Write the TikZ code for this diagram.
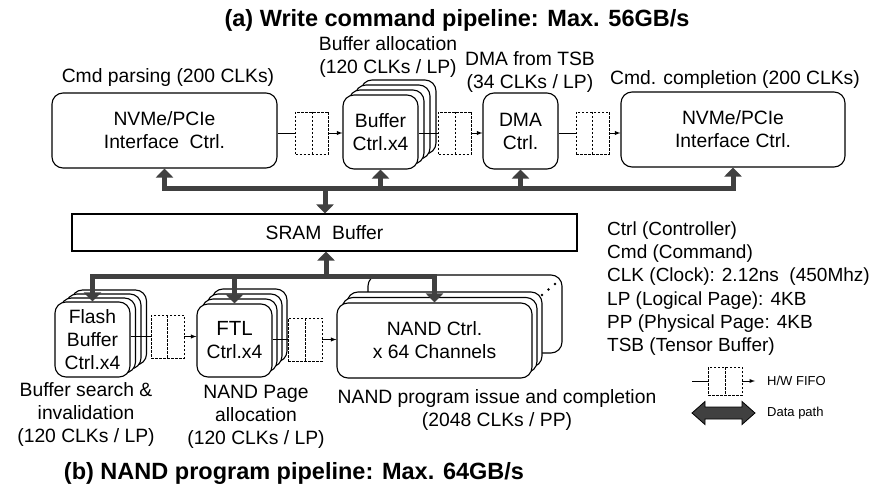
\documentclass[tikz,border=0pt]{standalone}
\usepackage{fontspec}
\setmainfont{Liberation Sans}
\usetikzlibrary{arrows.meta}
\definecolor{busgray}{RGB}{64,64,64}

\begin{document}
\begin{tikzpicture}
      [x = 1pt, y = -1pt,
      txt/.style = {
         font = \fontsize{19.3}{23}\selectfont,
         align = center,
         inner sep = 0pt
      },
      ctrl/.style = {
         draw,
         fill = white,
         rounded corners = 11pt,
         line width = 1.1pt,
         txt
      },
      fifo/.style = {
         draw,
         dash pattern = on 2.5pt off 1.5pt,
         line width = 0.8pt,
         minimum width = 33pt,
         minimum height = 42pt,
         inner sep = 0pt,
         path picture = {\draw[dash pattern = on 2.5pt off 1.5pt, line width = 0.8pt]
            (path picture bounding box.north) -- (path picture bounding box.south);}
      },
      link/.style = {line width = 0.9pt, -latex},
      bus/.style = {draw = busgray, line width = 5pt, line cap = rect},
      busarrow/.style = {bus, -{Triangle[width = 17pt, length = 9pt]}},
      pipetitle/.style = {font = \fontsize{23.5}{27}\selectfont\bfseries, inner sep = 0pt}]

      \useasboundingbox (0, 0) rectangle (892, 492);

      % (a) write command pipeline
      \node[pipetitle] (titleA) at (457, 20) {(a) Write command pipeline: Max. 56GB/s};

      \node[ctrl, minimum width = 225pt, minimum height = 75pt] (nvmeA) at (164.5, 130.5) {NVMe/PCIe\\Interface\ \ Ctrl.};
      \node[fifo] (fifoA) at (312, 133) {};
      \foreach \k in {3, 2, 1}
         \node[ctrl, minimum width = 75pt, minimum height = 74pt] at ({380.5 + 6*\k}, {132 - 5*\k}) {};
      \node[ctrl, minimum width = 75pt, minimum height = 74pt] (bufA) at (380.5, 132) {Buffer\\Ctrl.x4};
      \node[fifo] (fifoB) at (455, 133) {};
      \node[ctrl, minimum width = 75pt, minimum height = 76pt] (dmaA) at (520.5, 131) {DMA\\Ctrl.};
      \node[fifo] (fifoC) at (592.5, 133) {};
      \node[ctrl, minimum width = 224pt, minimum height = 75pt] (nvmeB) at (733, 129.5) {NVMe/PCIe\\Interface Ctrl.};

      \draw[line width = 0.9pt] (nvmeA.east |- fifoA.west) -- (fifoA.west);
      \draw[link] (fifoA.east) -- (bufA.west |- fifoA.east);
      \draw[line width = 0.9pt] (bufA.east |- fifoB.west) -- (fifoB.west);
      \draw[link] (fifoB.east) -- (dmaA.west |- fifoB.east);
      \draw[line width = 0.9pt] (dmaA.east |- fifoC.west) -- (fifoC.west);
      \draw[link] (fifoC.east) -- (nvmeB.west |- fifoC.east);

      \node[txt] (parseLbl) at (168, 78) {Cmd parsing (200 CLKs)};
      \node[txt] (allocLbl) at (388, 57.5) {Buffer allocation\\(120 CLKs / LP)};
      \node[txt] (dmaLbl) at (530, 72) {DMA from TSB\\(34 CLKs / LP)};
      \node[txt] (complLbl) at (735, 80) {Cmd. completion (200 CLKs)};

      \node[draw, line width = 1.1pt, minimum width = 505pt, minimum height = 37pt, txt] (sram) at (324.5, 232.5) {SRAM\ \ Buffer};

      % top data path
      \coordinate (busA) at (325, 189);
      \draw[bus] (nvmeA.south |- busA) -- (nvmeB.south |- busA);
      \draw[busarrow] (nvmeA.south |- busA) -- (nvmeA.south);
      \draw[busarrow] (bufA.south |- busA) -- (bufA.south);
      \draw[busarrow] (dmaA.south |- busA) -- (dmaA.south);
      \draw[busarrow] (nvmeB.south |- busA) -- (nvmeB.south);
      \draw[busarrow] (busA) -- (busA |- sram.north);

      % (b) NAND program pipeline
      \foreach \k in {3, 2, 1}
         \node[ctrl, minimum width = 75pt, minimum height = 75pt] at ({92.5 + 5.5*\k}, {339.5 - 4*\k}) {};
      \node[ctrl, minimum width = 75pt, minimum height = 75pt] (flash) at (92.5, 339.5) {Flash\\Buffer\\Ctrl.x4};
      \node[fifo, minimum height = 43pt] (fifoD) at (167.5, 336.5) {};
      \foreach \k in {3, 2, 1}
         \node[ctrl, minimum width = 75pt, minimum height = 73pt] at ({234.5 + 5*\k}, {340.5 - 5*\k}) {};
      \node[ctrl, minimum width = 75pt, minimum height = 73pt] (ftl) at (234.5, 340.5) {{\fontsize{20.5}{23}\selectfont FTL}\\Ctrl.x4};
      \node[fifo, minimum width = 34pt, minimum height = 43pt] (fifoE) at (305, 339.5) {};
      \node[ctrl, minimum width = 194pt, minimum height = 78pt] (nandBack) at (465, 314) {};
      \fill (542, 295) circle (1.3) (548.5, 289.5) circle (1.3) (555, 284) circle (1.3);
      \foreach \k in {2, 1}
         \node[ctrl, minimum width = 195pt, minimum height = 75pt] at ({434.5 + 5*\k}, {340.5 - 5.5*\k}) {};
      \node[ctrl, minimum width = 195pt, minimum height = 75pt] (nand) at (434.5, 340.5) {NAND Ctrl.\\x 64 Channels};

      \draw[line width = 0.9pt] (flash.east |- fifoD.west) -- (fifoD.west);
      \draw[link] (fifoD.east) -- (ftl.west |- fifoD.east);
      \draw[line width = 0.9pt] (ftl.east |- fifoE.west) -- (fifoE.west);
      \draw[link] (fifoE.east) -- (nand.west |- fifoE.east);

      % bottom data path
      \coordinate (busB) at (326, 276);
      \draw[bus] (flash.north |- busB) -- (nand.north |- busB);
      \draw[busarrow] (busB) -- (busB |- sram.south);
      \draw[busarrow] (flash.north |- busB) -- (flash.north);
      \draw[busarrow] (ftl.north |- busB) -- (ftl.north);
      \draw[busarrow] (nand.north |- busB) -- (nand.north);

      \node[txt] (searchLbl) at (86, 415) {Buffer search \&\\invalidation\\(120 CLKs / LP)};
      \node[txt] (pageLbl) at (256, 417) {NAND Page\\allocation\\(120 CLKs / LP)};
      \node[txt] (progLbl) at (497, 410) {NAND program issue and completion\\(2048 CLKs / PP)};
      \node[pipetitle] (titleB) at (294, 473) {(b) NAND program pipeline: Max. 64GB/s};

      % legend
      \node[txt, align = left, anchor = west, font = \fontsize{19}{23.3}\selectfont] (abbrev) at (607, 288.5)
         {Ctrl (Controller)\\Cmd (Command)\\CLK (Clock): 2.12ns\ \ (450Mhz)\\LP (Logical Page): 4KB\\PP (Physical Page: 4KB\\TSB (Tensor Buffer)};
      \node[fifo, minimum width = 34pt, minimum height = 28pt] (fifoKey) at (725, 381) {};
      \coordinate (fifoIn) at (692, 381);
      \coordinate (fifoOut) at (755, 381);
      \draw[line width = 0.9pt] (fifoIn) -- (fifoKey.west);
      \draw[link] (fifoKey.east) -- (fifoOut);
      \node[font = \fontsize{13}{15}\selectfont, anchor = west, inner sep = 0pt] (fifoKeyLbl) at (767, 381) {H/W FIFO};
      \filldraw[fill = busgray, draw = black, line width = 0.8pt]
         (692, 413) -- (705, 401.5) -- (705, 407) -- (742, 407) -- (742, 401.5) -- (755, 413)
         -- (742, 424.5) -- (742, 419) -- (705, 419) -- (705, 424.5) -- cycle;
      \node[font = \fontsize{13}{15}\selectfont, anchor = west, inner sep = 0pt] (pathKeyLbl) at (767, 413) {Data path};

   \end{tikzpicture}
\end{document}
